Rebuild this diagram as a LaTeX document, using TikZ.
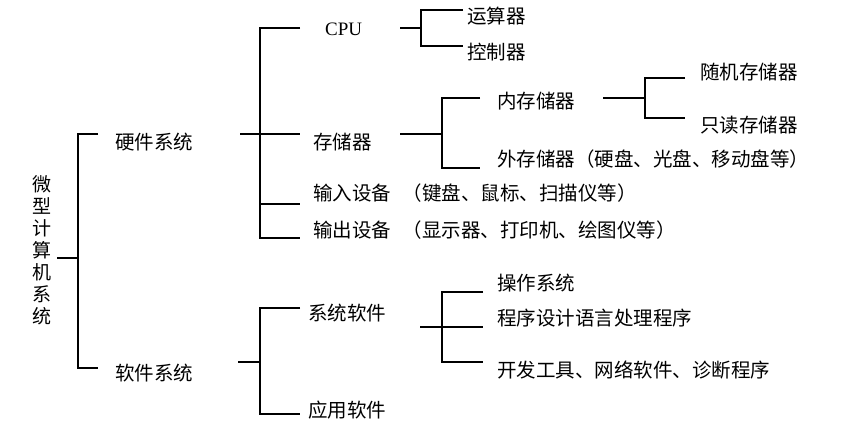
\documentclass[tikz,border=0pt]{standalone}
\usepackage{fontspec}
\setmainfont{Liberation Serif}
\newfontfamily\cjk{Noto Sans CJK SC}
\begin{document}
\begin{tikzpicture}[x=1pt,y=-1pt,
  t/.style={anchor=west,inner sep=0pt,font=\cjk\fontsize{19.5}{22}\selectfont},
  ln/.style={line width=1.8pt}]
\useasboundingbox (0,0) rectangle (845,425);
\node[inner sep=0pt,align=center,font=\cjk\fontsize{19}{22}\selectfont] (root) at (42,250) {微\\型\\计\\算\\机\\系\\统};
\node[t] (hw) at (115,142) {硬件系统};
\node[t] (sw) at (115,373) {软件系统};
\node[t,font=\fontsize{19}{21}\selectfont] (cpu) at (325,29) {CPU};
\node[t] (mem) at (313,142) {存储器};
\node[t] (in) at (313,193) {输入设备\hspace{0.6em}（键盘、鼠标、扫描仪等）};
\node[t] (out) at (313,230) {输出设备\hspace{0.6em}（显示器、打印机、绘图仪等）};
\node[t] (alu) at (467,16) {运算器};
\node[t] (ctl) at (467,52) {控制器};
\node[t] (imem) at (497,101) {内存储器};
\node[t] (emem) at (497,159) {外存储器（硬盘、光盘、移动盘等）};
\node[t] (ram) at (700,72) {随机存储器};
\node[t] (rom) at (700,125) {只读存储器};
\node[t] (sys) at (308,313) {系统软件};
\node[t] (app) at (308,410) {应用软件};
\node[t] (os) at (497,283) {操作系统};
\node[t] (lang) at (497,318) {程序设计语言处理程序};
\node[t] (dev) at (497,370) {开发工具、网络软件、诊断程序};
% root bracket
\coordinate (r0) at (57,258);
\draw[ln] (r0) -- (78,258);
\draw[ln] (98,134) -- (78,134) -- (78,368) -- (98,368);
% hardware
\draw[ln] (240,134) -- (260,134);
\draw[ln] (300,28) -- (260,28) -- (260,238) -- (300,238);
\draw[ln] (260,134) -- (300,134);
\draw[ln] (260,204) -- (300,204);
% cpu
\draw[ln] (400,28) -- (421,28);
\draw[ln] (463,10) -- (421,10) -- (421,46) -- (463,46);
% memory
\draw[ln] (400,134) -- (442,134);
\draw[ln] (480,98) -- (442,98) -- (442,168) -- (480,168);
% internal memory
\draw[ln] (603,98) -- (645,98);
\draw[ln] (685,78) -- (645,78) -- (645,118) -- (685,118);
% software
\draw[ln] (238,362) -- (260,362);
\draw[ln] (300,308) -- (260,308) -- (260,414) -- (300,414);
\draw[ln] (420,327) -- (483,327);
\draw[ln] (483,292) -- (442,292) -- (442,362) -- (483,362);
\end{tikzpicture}
\end{document}
